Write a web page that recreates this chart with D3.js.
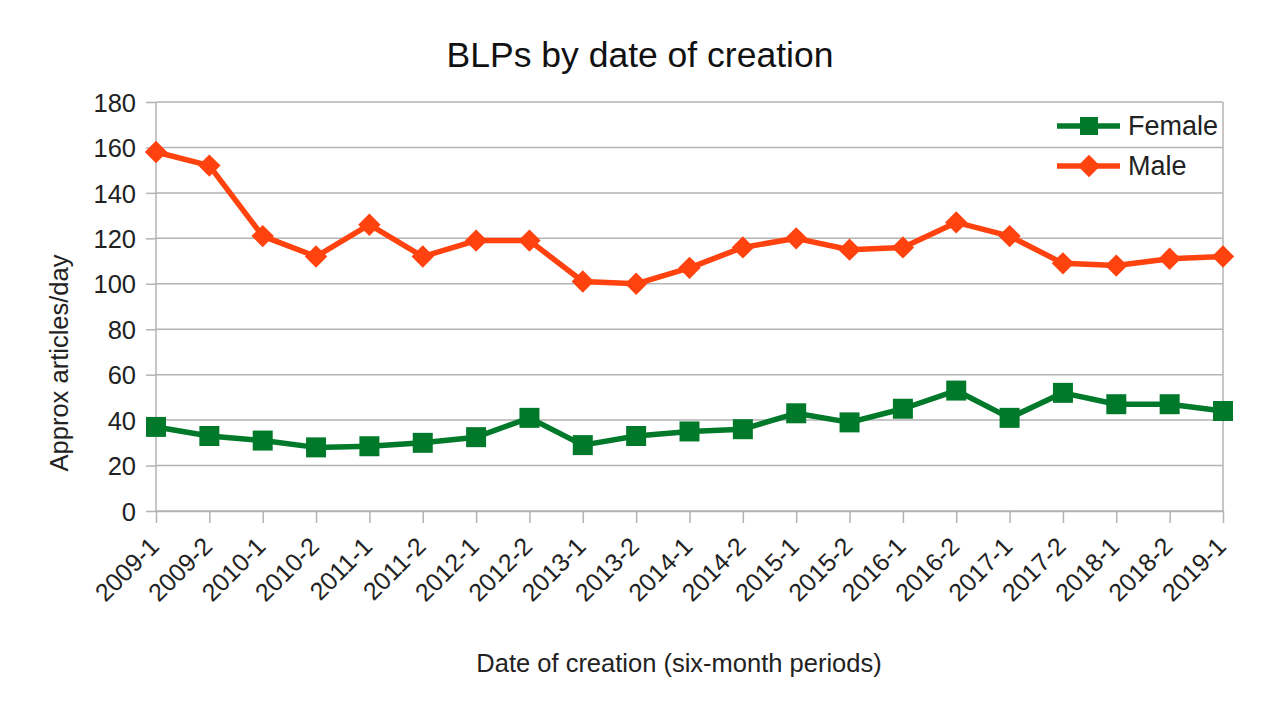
<!DOCTYPE html>
<html><head><meta charset="utf-8">
<script src="https://cdn.jsdelivr.net/npm/d3@7"></script>
<style>body{margin:0;background:#fff}text{font-family:"Liberation Sans",Arial,sans-serif}</style>
</head><body><svg id="c" width="1280" height="719"></svg>
<script>
const categories=["2009-1","2009-2","2010-1","2010-2","2011-1","2011-2","2012-1","2012-2","2013-1","2013-2","2014-1","2014-2","2015-1","2015-2","2016-1","2016-2","2017-1","2017-2","2018-1","2018-2","2019-1"];
const female=[37,33,31,28,28.5,30,32.5,41,29,33,35,36,43,39,45,53,41,52,47,47,44];
const male=[158,152,121,112,126,112,119,119,101,100,107,116,120,115,116,127,121,109,108,111,112];
const yTicks=[0,20,40,60,80,100,120,140,160,180];
const seriesNames=["Female","Male"];
const colors=["#007a2a","#ff420e"];

const svg=d3.select("#c");
const L=156,R=1223,T=102,B=511;
const x=d3.scalePoint().domain(categories).range([L,R]);
const y=d3.scaleLinear().domain([0,180]).range([B,T]);
const FF="Liberation Sans, Arial, sans-serif";

svg.append("g").selectAll("line").data(yTicks).join("line")
 .attr("x1",L).attr("x2",R).attr("y1",d=>y(d)).attr("y2",d=>y(d))
 .attr("stroke","#b3b3b3").attr("stroke-width",1.5);
svg.append("line").attr("x1",R).attr("x2",R).attr("y1",T).attr("y2",B).attr("stroke","#b3b3b3").attr("stroke-width",1.5);

const ya=svg.append("g").attr("transform",`translate(${L},0)`).call(d3.axisLeft(y).tickValues(yTicks).tickSize(10).tickPadding(10));
ya.attr("font-size",null).attr("font-family",null);
ya.select(".domain").attr("stroke","#b3b3b3").attr("stroke-width",1.5).attr("d",`M0,${T}V${B}`);
ya.selectAll(".tick line").attr("stroke","#b3b3b3").attr("stroke-width",1.5);
ya.selectAll("text").style("font-size","25.5px").attr("fill","#222").style("font-family",FF).attr("dy","0.36em");

const xa=svg.append("g").attr("transform",`translate(0,${B})`).call(d3.axisBottom(x).tickSize(12).tickSizeOuter(0));
xa.attr("font-size",null).attr("font-family",null);
xa.select(".domain").attr("stroke","#b3b3b3").attr("stroke-width",1.5);
xa.selectAll(".tick line").attr("stroke","#b3b3b3").attr("stroke-width",1.5);
xa.selectAll("text").style("font-size","25px").attr("fill","#222").style("font-family",FF)
 .attr("text-anchor","end").attr("dy",0).attr("y",0)
 .attr("transform","translate(4,37) rotate(-45)");

const line=d3.line().x((d,i)=>x(categories[i])).y(d=>y(d));
const data=[female,male];
const sq=d3.symbol().type(d3.symbolSquare).size(400);
const di=d3.symbol().type(d3.symbolSquare).size(250);
data.forEach((s,k)=>{
 svg.append("path").datum(s).attr("d",line).attr("fill","none").attr("stroke",colors[k]).attr("stroke-width",5.5).attr("stroke-linejoin","round");
 svg.append("g").selectAll("path").data(s).join("path")
  .attr("transform",(d,i)=>`translate(${x(categories[i])},${y(d)})${k===1?" rotate(45)":""}`)
  .attr("d",k===0?sq():di()).attr("fill",colors[k]);
});

seriesNames.forEach((n,k)=>{
 const ly=126+k*40;
 svg.append("line").attr("x1",1057).attr("x2",1120).attr("y1",ly).attr("y2",ly).attr("stroke",colors[k]).attr("stroke-width",5.5);
 svg.append("path").attr("transform",`translate(1089,${ly})${k===1?" rotate(45)":""}`).attr("d",k===0?d3.symbol().type(d3.symbolSquare).size(324)():di()).attr("fill",colors[k]);
 svg.append("text").attr("x",1128).attr("y",ly+9).style("font-size","27px").attr("fill","#222").text(n);
});

svg.append("text").attr("x",640).attr("y",67).attr("text-anchor","middle").style("font-size","35.5px").attr("fill","#111").text("BLPs by date of creation");
svg.append("text").attr("transform","translate(68,363) rotate(-90)").attr("text-anchor","middle").style("font-size","25.5px").attr("fill","#222").text("Approx articles/day");
svg.append("text").attr("x",679).attr("y",672).attr("text-anchor","middle").style("font-size","25.5px").attr("fill","#222").text("Date of creation (six-month periods)");
</script></body></html>
